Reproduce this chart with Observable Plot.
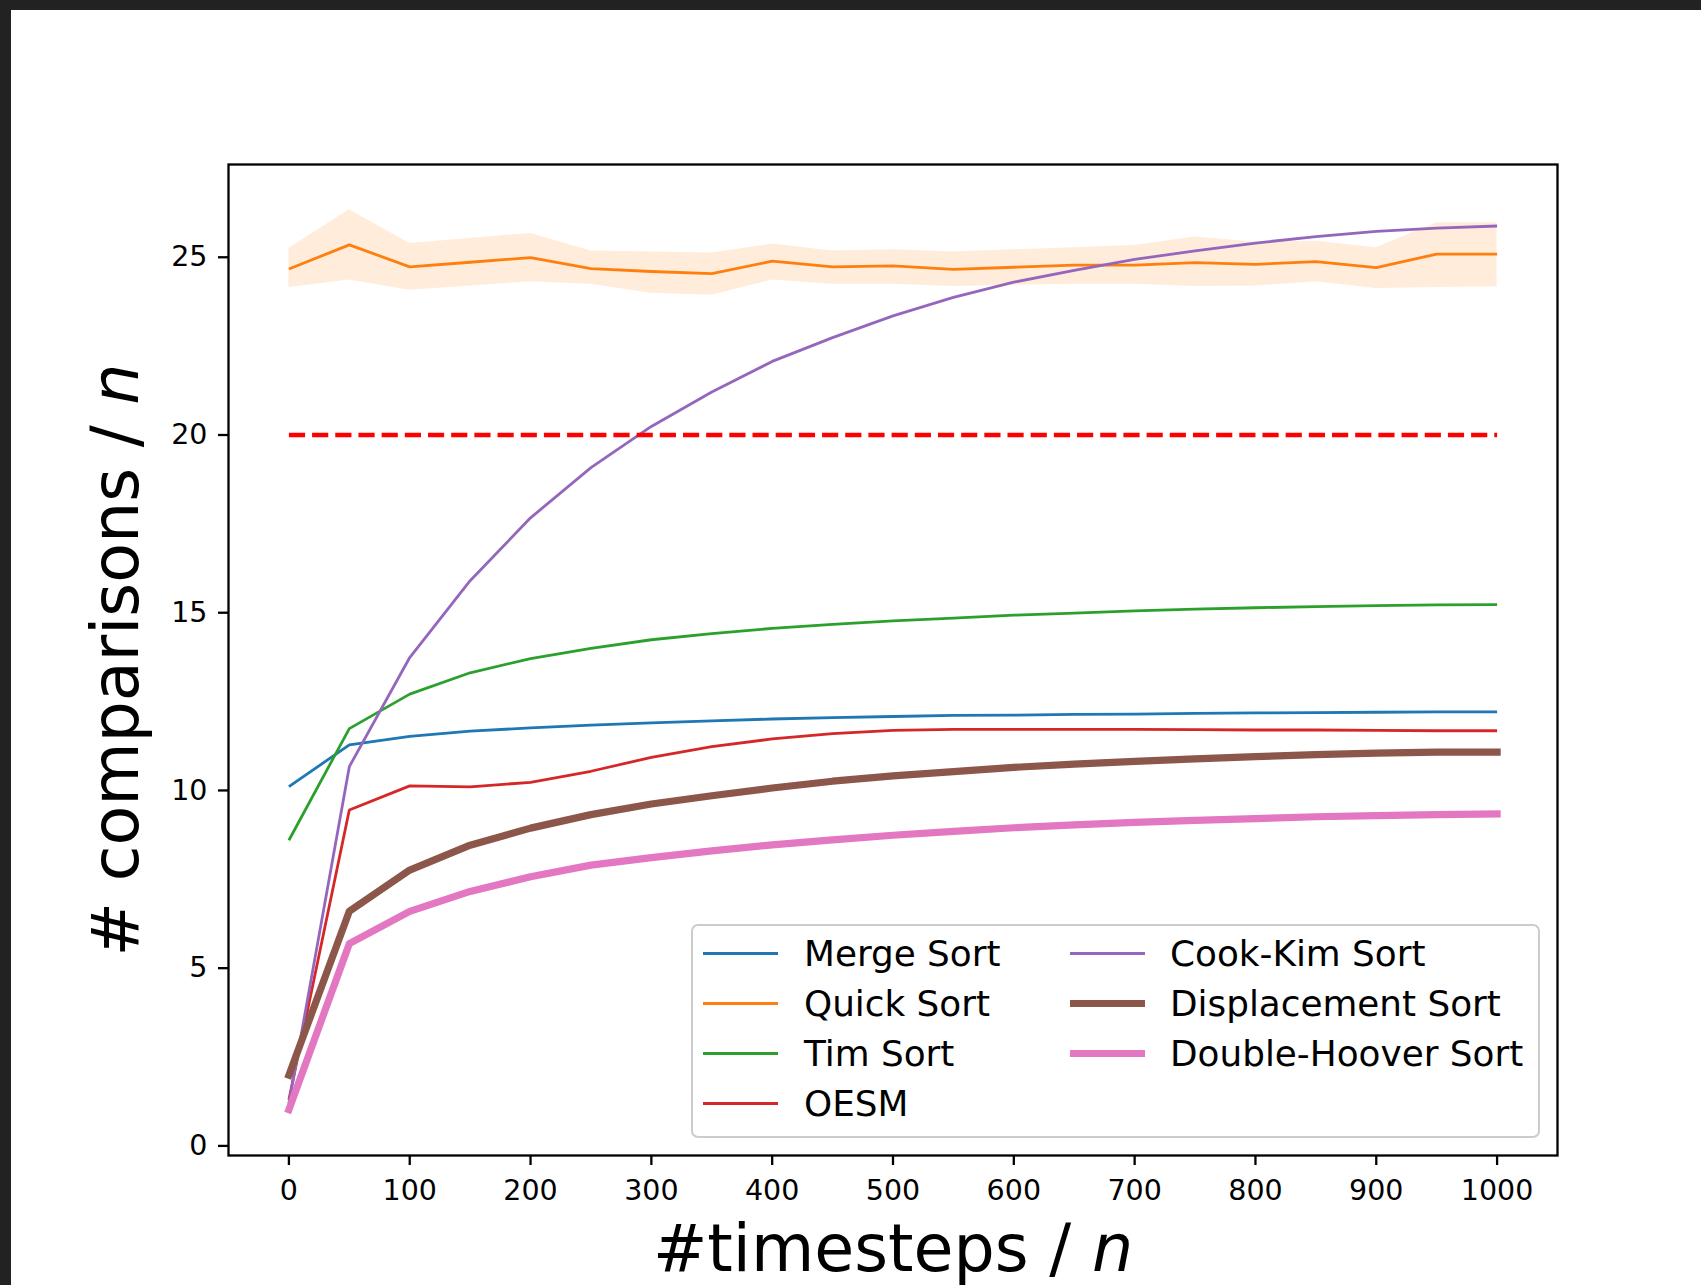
<!DOCTYPE html>
<html>
<head>
<meta charset="utf-8">
<script src="https://cdn.jsdelivr.net/npm/d3@7"></script>
<script src="https://cdn.jsdelivr.net/npm/@observablehq/plot@0.6"></script>
<style>
  html, body { margin: 0; padding: 0; background: #ffffff; }
  #wrap { position: relative; width: 1701px; height: 1285px; overflow: hidden; background: #ffffff; }
  #topbar { position: absolute; left: 0; top: 0; width: 1701px; height: 10px; background: #222222; }
  #leftbar { position: absolute; left: 0; top: 0; width: 11px; height: 1285px; background: #222222; }
  #chart svg { display: block; }
</style>
</head>
<body>
<div id="wrap">
  <div id="chart"></div>
  <div id="topbar"></div>
  <div id="leftbar"></div>
</div>
<script>
// ---------------- data ----------------
const steps = [0, 50, 100, 150, 200, 250, 300, 350, 400, 450, 500, 550, 600, 650, 700, 750, 800, 850, 900, 950, 1000];

const mergeSort = [10.11, 11.28, 11.52, 11.67, 11.76, 11.84, 11.90, 11.96, 12.01, 12.05, 12.08, 12.11, 12.12, 12.14, 12.15, 12.17, 12.18, 12.19, 12.20, 12.21, 12.21];
const quickSort = [24.67, 25.35, 24.73, 24.86, 24.99, 24.68, 24.60, 24.54, 24.89, 24.73, 24.76, 24.66, 24.72, 24.78, 24.78, 24.85, 24.80, 24.88, 24.71, 25.09, 25.09];
const quickLo   = [24.15, 24.36, 24.07, 24.19, 24.31, 24.24, 23.99, 23.93, 24.36, 24.24, 24.24, 24.18, 24.21, 24.24, 24.24, 24.18, 24.19, 24.31, 24.12, 24.15, 24.17];
const quickHi   = [25.25, 26.34, 25.39, 25.53, 25.67, 25.18, 25.15, 25.12, 25.37, 25.18, 25.21, 25.15, 25.21, 25.27, 25.33, 25.57, 25.42, 25.45, 25.27, 25.97, 25.97];
const timSort   = [8.60, 11.74, 12.71, 13.31, 13.71, 14.00, 14.24, 14.41, 14.56, 14.67, 14.77, 14.85, 14.93, 14.99, 15.05, 15.10, 15.14, 15.17, 15.20, 15.22, 15.23];
const oesm      = [1.30, 9.45, 10.13, 10.10, 10.23, 10.54, 10.93, 11.23, 11.45, 11.60, 11.69, 11.72, 11.72, 11.72, 11.72, 11.71, 11.70, 11.70, 11.69, 11.68, 11.68];
const cookKim   = [1.20, 10.67, 13.74, 15.90, 17.67, 19.08, 20.24, 21.21, 22.07, 22.74, 23.35, 23.87, 24.30, 24.63, 24.94, 25.18, 25.40, 25.58, 25.73, 25.82, 25.88];
const displacement = [1.99, 6.60, 7.76, 8.46, 8.94, 9.32, 9.62, 9.85, 10.07, 10.26, 10.41, 10.53, 10.65, 10.74, 10.82, 10.89, 10.95, 11.01, 11.05, 11.08, 11.08];
const doubleHoover = [1.02, 5.69, 6.60, 7.16, 7.57, 7.90, 8.11, 8.30, 8.47, 8.61, 8.74, 8.85, 8.95, 9.03, 9.10, 9.16, 9.21, 9.26, 9.29, 9.32, 9.34];

const thresholdX = [0, 1000];
const thresholdY = [20, 20];

const xTicks = [0, 100, 200, 300, 400, 500, 600, 700, 800, 900, 1000];
const yTicks = [0, 5, 10, 15, 20, 25];

const seriesNames = ["Merge Sort", "Quick Sort", "Tim Sort", "OESM", "Cook-Kim Sort", "Displacement Sort", "Double-Hoover Sort"];
const seriesColors = ["#1f77b4", "#ff7f0e", "#2ca02c", "#d62728", "#9467bd", "#8c564b", "#e377c2"];
const seriesWidths = [2.8, 2.8, 2.8, 2.8, 2.8, 7.2, 7.2];
const seriesValues = [mergeSort, quickSort, timSort, oesm, cookKim, displacement, doubleHoover];

const xLabelMain = "#timesteps / ";
const yLabelMain = "# comparisons / ";
const labelItalic = "n";

// ---------------- layout ----------------
const W = 1701, H = 1285;
const M = {top: 164, right: 144, bottom: 130, left: 228};
const FONT = "DejaVu Sans";

const lineMarks = seriesValues.map((vals, i) =>
  Plot.line(steps, {
    x: steps, y: vals,
    stroke: seriesColors[i], strokeWidth: seriesWidths[i],
    strokeLinejoin: "round", strokeLinecap: seriesWidths[i] > 4 ? "square" : "butt"
  })
);

const svg = Plot.plot({
  width: W, height: H,
  marginTop: M.top, marginRight: M.right, marginBottom: M.bottom, marginLeft: M.left,
  style: {fontFamily: FONT, fontSize: "28px", background: "#ffffff", color: "#000000"},
  x: {type: "linear", domain: [-50, 1050]},
  y: {type: "linear", domain: [-0.27, 27.61]},
  marks: [
    Plot.areaY(steps, {x: steps, y1: quickLo, y2: quickHi, fill: "#ff7f0e", fillOpacity: 0.15}),
    ...lineMarks,
    Plot.line(thresholdX, {x: thresholdX, y: thresholdY, stroke: "#ff0000", strokeWidth: 4.3,
      strokeDasharray: "16.18,7.0", strokeLinecap: "butt"}),
    Plot.axisX({ticks: xTicks, tickFormat: d => String(d), tickSize: 10, tickPadding: 14,
      fontSize: 28.5, strokeWidth: 2.3, label: null}),
    Plot.axisY({ticks: yTicks, tickFormat: d => String(d), tickSize: 10, tickPadding: 11,
      fontSize: 28.5, strokeWidth: 2.3, label: null}),
    Plot.frame({stroke: "#000000", strokeWidth: 2.3}),
    Plot.text([xLabelMain], {frameAnchor: "bottom", text: d => d, dy: 115, fontSize: 65,
      lineAnchor: "bottom", textAnchor: "middle", fill: "#000000"}),
    Plot.text([yLabelMain], {frameAnchor: "left", text: d => d, dx: -91, rotate: -90, fontSize: 65,
      lineAnchor: "bottom", textAnchor: "middle", fill: "#000000"})
  ]
});

document.getElementById("chart").appendChild(svg);

// italic "n" in axis labels (mathtext-like)
const s = d3.select(svg);
s.selectAll("text").each(function () {
  const tc = this.textContent;
  if (tc === xLabelMain || tc === yLabelMain) {
    const t = d3.select(this);
    t.text(null);
    t.append("tspan").text(tc);
    t.append("tspan").attr("font-style", "italic").text(labelItalic);
  }
});

// legend (inside the axes, lower right)
const L = {x: 692, y: 925, w: 847, h: 212, rowY0: 953.5, rowGap: 50,
  colHandleX: [703, 1070], handleLen: 75, colTextX: [804, 1170], fontSize: 35.8, baseOff: 12};
const lg = s.append("g").attr("font-family", FONT).attr("font-size", L.fontSize)
  .attr("text-anchor", "start");
lg.append("rect").attr("x", L.x).attr("y", L.y).attr("width", L.w).attr("height", L.h)
  .attr("rx", 6).attr("fill", "#ffffff").attr("fill-opacity", 0.8)
  .attr("stroke", "#cccccc").attr("stroke-width", 2);
seriesNames.forEach((name, i) => {
  const col = i < 4 ? 0 : 1;
  const row = i < 4 ? i : i - 4;
  const cy = L.rowY0 + row * L.rowGap;
  lg.append("line")
    .attr("x1", L.colHandleX[col]).attr("x2", L.colHandleX[col] + L.handleLen)
    .attr("y1", cy).attr("y2", cy)
    .attr("stroke", seriesColors[i]).attr("stroke-width", seriesWidths[i])
    .attr("stroke-linecap", "butt");
  lg.append("text").attr("x", L.colTextX[col]).attr("y", cy + L.baseOff)
    .attr("text-anchor", "start").attr("fill", "#000000").text(name);
});
</script>
</body>
</html>
